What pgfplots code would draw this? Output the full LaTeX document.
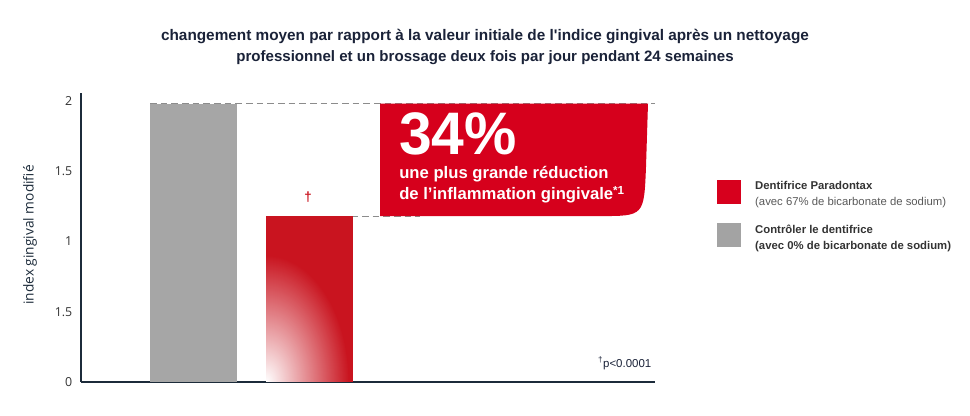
\documentclass[border=0pt]{standalone}
\usepackage{pgfplots}
\pgfplotsset{compat=1.18}
\usetikzlibrary{fadings}
\usepackage{fontspec}
\setmainfont{Liberation Sans}
\newfontfamily\opensans{Open Sans}
\definecolor{boxred}{HTML}{D6001C}
\definecolor{barred}{HTML}{C9141F}
\definecolor{legred}{HTML}{D7001D}
\definecolor{bargray}{HTML}{A6A6A6}
\definecolor{leggray}{HTML}{A3A3A3}
\definecolor{axisnavy}{HTML}{1C2B3A}
\definecolor{titlecol}{HTML}{1A2238}
\definecolor{tickgray}{HTML}{333333}
\definecolor{dashgray}{HTML}{8C8C8C}
\tikzfading[name=radfade, inner color=transparent!0, outer color=transparent!100]
\begin{document}
\begin{tikzpicture}
\useasboundingbox (0,0) rectangle (727.5pt,312pt);
\begin{axis}[
  at={(60.75pt,25.5pt)}, anchor=south west,
  scale only axis, width=430.5pt, height=216.75pt,
  xmin=81, xmax=655, ymin=0, ymax=2.055,
  axis x line*=bottom, axis y line*=left,
  axis line style={color=axisnavy, line width=0.9pt, -},
  xtick=\empty, ytick={0,0.5,1,1.5,2}, yticklabels={0,1.5,1,1.5,2},
  major tick length=0pt,
  /pgf/number format/assume math mode=true,
  yticklabel style={font=\opensans\fontsize{9.3}{10}\selectfont, text=tickgray, xshift=-3pt},
  ylabel={index gingival modifié},
  ylabel style={at={(axis description cs:-0.089,0.509)}, anchor=center, font=\opensans\fontsize{10.3}{11}\selectfont, text=axisnavy},
  clip=false,
  legend cell align=left,
  legend style={at={(axis description cs:1.108,0.70)}, anchor=north west, draw=none, fill=none,
    inner sep=0pt, outer sep=0pt, row sep=12pt,
    nodes={align=left, inner sep=0pt, font=\fontsize{8.5}{12}\selectfont},
    /tikz/every odd column/.style={column sep=11pt}},
]
% dashed reference lines
\draw[dashgray, dash pattern=on 5pt off 3pt, line width=0.6pt] (axis cs:150,1.98) -- (axis cs:655,1.98);
\draw[dashgray, dash pattern=on 5pt off 3pt, line width=0.6pt] (axis cs:266,1.18) -- (axis cs:420,1.18);
% bars
\addplot[ybar, bar width=87, bar shift=0pt, fill=bargray, draw=none, forget plot] coordinates {(193.5,1.98)};
\addplot[ybar, bar width=87, bar shift=0pt, fill=barred, draw=none, forget plot] coordinates {(309.5,1.18)};
% faded lower-left corner of the red bar
\begin{scope}
\clip (axis cs:266,0) rectangle (axis cs:353,1.18);
\fill[white, path fading=radfade] (axis cs:266,0) ellipse [x radius=62pt, y radius=95pt];
\end{scope}
% red callout box
\fill[boxred] (axis cs:380,1.98) -- (axis cs:648,1.98) -- (axis cs:646,1.53) .. controls (axis cs:644,1.18) .. (axis cs:600,1.18) -- (axis cs:380,1.18) -- cycle;
% legend
\addlegendimage{legend image code/.code={\fill[legred] (0pt,-6.5pt) rectangle (17.25pt,10.75pt);}}
\addlegendentry{\textbf{\color{tickgray}Dentifrice Paradontax}\\{\color{black!65}(avec 67\% de bicarbonate de sodium)}}
\addlegendimage{legend image code/.code={\fill[leggray] (0pt,-6.5pt) rectangle (17.25pt,10.75pt);}}
\addlegendentry{\textbf{\color{tickgray}Contrôler le dentifrice}\\\textbf{\color{tickgray}(avec 0\% de bicarbonate de sodium)}}
\end{axis}
\begin{scope}[x=0.75pt, y=-0.75pt, shift={(0pt,312pt)}]
\node[font=\bfseries\fontsize{11.5}{12}\selectfont, text=titlecol] at (485,37) {changement moyen par rapport à la valeur initiale de l\textquotesingle indice gingival après un nettoyage};
\node[font=\bfseries\fontsize{11.3}{12}\selectfont, text=titlecol] at (485,58) {professionnel et un brossage deux fois par jour pendant 24 semaines};
\node[anchor=base west, text=white, font=\bfseries\fontsize{45}{45}\selectfont, inner sep=0pt] at (399,154.5) {\scalebox{0.98}[1]{34\%}};
\node[anchor=base west, text=white, font=\bfseries\fontsize{12.5}{15}\selectfont, inner sep=0pt] at (399,179) {une plus grande réduction};
\node[anchor=base west, text=white, font=\bfseries\fontsize{12.5}{15}\selectfont, inner sep=0pt] at (399,200) {de l’inflammation gingivale\textsuperscript{*1}};
\node[text=barred, font=\bfseries\fontsize{10}{10}\selectfont] at (308,197) {†};
\node[anchor=east, font=\fontsize{8.6}{9}\selectfont, text=titlecol] at (656,363) {\textsuperscript{†}p<0.0001};
\end{scope}
\end{tikzpicture}
\end{document}
